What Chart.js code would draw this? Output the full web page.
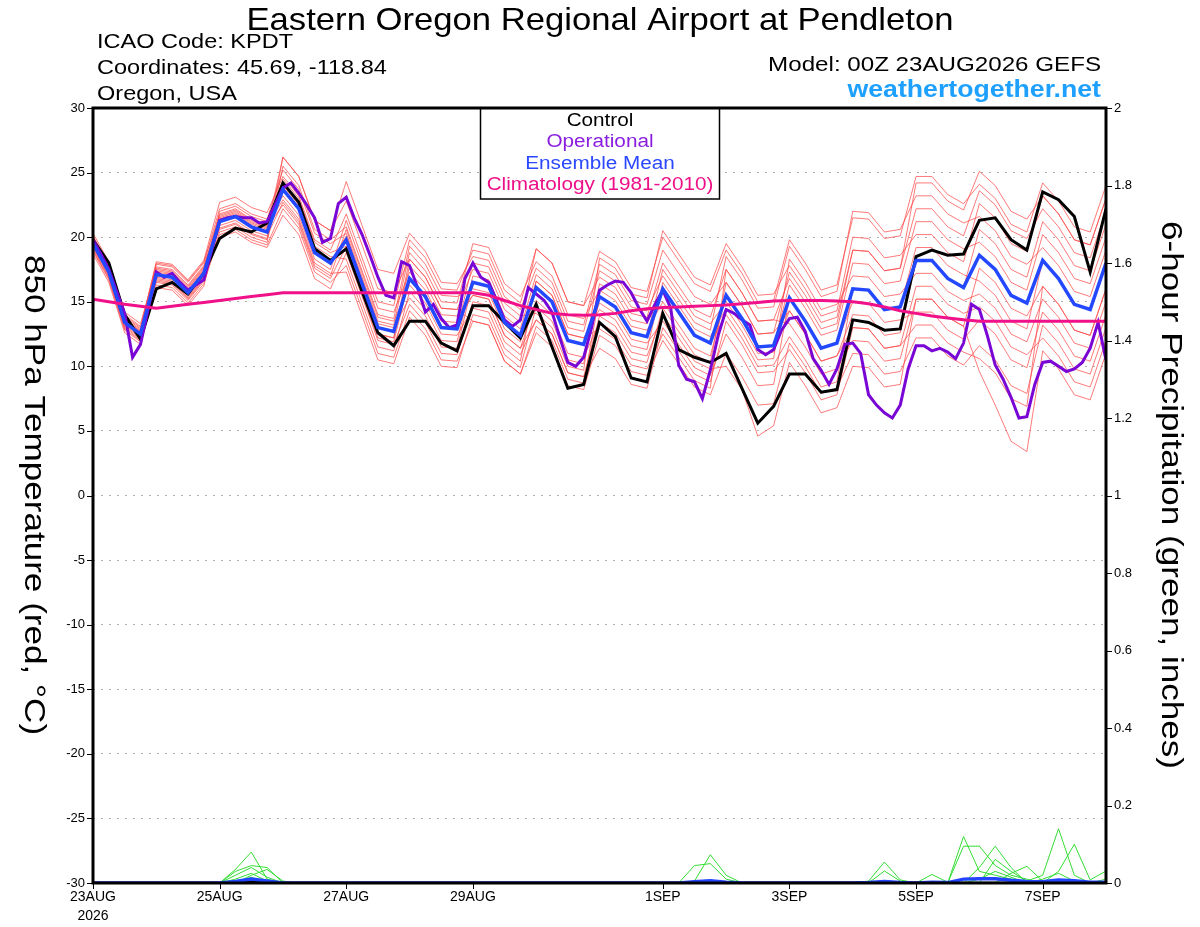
<!DOCTYPE html>
<html><head><meta charset="utf-8">
<script src="https://cdn.jsdelivr.net/npm/chart.js@4.4.1/dist/chart.umd.min.js"></script>
<style>html,body{margin:0;padding:0;background:#fff;}canvas{display:block;}</style>
</head><body>
<canvas id="c" width="1200" height="927"></canvas>
<script>
// ---------- DATA ----------
const stepHours = 6;      // ensemble / control / mean step
const opStepHours = 3;    // operational step
const xTickHours = [0, 48, 96, 144, 216, 264, 312, 360];
const xTickLabels = [['23AUG', '2026'], '25AUG', '27AUG', '29AUG', '1SEP', '3SEP', '5SEP', '7SEP'];

const controlT = [19.8,18.0,14.0,12.1, 16.0,16.5,15.6,17.2, 19.9,20.7,20.4,21.1, 24.2,22.7,19.1,18.2, 19.1,15.8,12.6,11.6, 13.5,13.5,11.8,11.2, 14.7,14.7,13.4,12.2, 14.8,11.5,8.3,8.6, 13.4,12.3,9.1,8.8, 14.1,11.3,10.7,10.3, 11.0,8.3,5.6,6.9, 9.4,9.4,8.0,8.2, 13.6,13.4,12.8,12.9, 18.5,19.0,18.6,18.7, 21.3,21.5,19.8,19.0, 23.5,22.9,21.6,17.3,22.2];
const meanT = [19.5,17.3,13.4,12.5, 17.1,16.9,15.7,17.2, 21.2,21.6,20.8,20.4, 23.7,22.2,18.8,18.0, 19.8,16.4,13.0,12.7, 16.8,15.4,13.0,12.9, 16.5,16.2,13.4,12.4, 16.1,15.0,12.0,11.7, 15.4,14.6,12.6,12.3, 16.0,14.2,12.4,11.8, 15.5,13.7,11.5,11.6, 15.3,13.5,11.4,11.8, 16.0,15.9,14.4,14.6, 18.2,18.2,16.8,16.1, 18.6,17.5,15.5,14.9, 18.2,16.8,14.8,14.4,18.0];
const climT = [15.2,15.0,14.8,14.65, 14.5,14.65,14.8,14.95, 15.1,15.25,15.4,15.55, 15.7,15.7,15.7,15.7, 15.7,15.7,15.7,15.7, 15.7,15.7,15.7,15.7, 15.7,15.5,15.1,14.7, 14.4,14.1,14.0,13.95, 14.0,14.1,14.3,14.45, 14.55,14.6,14.65,14.7, 14.75,14.85,14.95,15.05, 15.1,15.1,15.1,15.05, 15.0,14.85,14.6,14.3, 14.1,13.9,13.75,13.6, 13.5,13.5,13.5,13.5, 13.5,13.5,13.5,13.5,13.5];
const operationalT = [19.8,18.7,17.5,15.8,14.1,10.7,11.7,14.5,17.3,16.9, 17.2,16.5,15.9,16.3,16.7,19.0,21.3,21.5,21.6,21.5, 21.5,21.1,21.2,22.5,23.8,24.2,23.4,22.5,21.5,19.6, 19.9,22.6,23.1,21.5,20.2,18.6,16.9,15.5,15.3,18.1, 17.8,16.1,14.2,14.8,13.7,13.0,13.2,16.8,18.0,16.9, 16.5,15.1,13.6,13.1,13.6,16.1,15.6,15.1,14.2,12.2, 10.3,10.0,10.7,13.0,15.9,16.3,16.6,16.5,15.7,14.5, 13.5,14.8,15.9,14.5,10.1,9.0,8.8,7.5,9.7,12.4, 14.4,14.1,13.6,13.2,11.3,10.9,11.3,12.8,13.7,13.8, 12.7,10.6,9.7,8.6,9.8,11.7,11.8,11.0,7.8,7.0, 6.4,6.0,7.0,9.8,11.6,11.6,11.2,11.4,11.1,10.6, 11.8,14.8,14.4,12.4,10.1,9.0,7.6,6.0,6.1,8.6, 10.3,10.4,10.0,9.6,9.8,10.3,11.4,13.4,10.5];

const member01 = [20.0,17.8,13.9,13.0, 18.1,17.9,16.7,18.2, 22.7,23.1,22.3,21.9, 24.7,23.2,19.8,19.0, 21.8,18.4,15.0,14.7, 19.8,18.4,16.0,15.9, 19.0,18.7,15.9,14.9, 19.1,18.0,15.0,14.7, 18.9,18.1,16.1,15.8, 20.0,18.2,16.4,15.8, 19.0,17.2,15.0,15.1, 19.8,18.0,15.9,16.3, 21.5,21.4,19.9,20.1, 24.7,24.7,23.3,22.6, 24.1,23.0,21.0,20.4, 24.2,22.8,20.8,20.4,24.0];
const member02 = [19.0,16.8,12.9,12.0, 16.3,16.1,14.9,16.4, 20.2,20.6,19.8,19.4, 22.2,20.7,17.3,16.5, 17.8,14.4,11.0,10.7, 14.3,12.9,10.5,10.4, 13.5,13.2,10.4,9.4, 12.6,11.5,8.5,8.2, 12.4,11.6,9.6,9.3, 12.0,10.2,8.4,7.8, 11.0,9.2,7.0,7.1, 11.8,10.0,7.9,8.3, 11.0,10.9,9.4,9.6, 12.2,12.2,10.8,10.1, 11.6,10.5,8.5,7.9, 13.2,11.8,9.8,9.4,13.0];
const member03 = [20.3,18.1,14.2,13.3, 17.6,17.4,16.2,17.7, 21.5,21.9,21.1,20.7, 26.2,24.7,21.3,20.5, 24.3,20.9,17.5,17.2, 20.3,18.9,16.5,16.4, 18.5,18.2,15.4,14.4, 17.6,16.5,13.5,13.2, 17.9,17.1,15.1,14.8, 19.0,17.2,15.4,14.8, 16.5,14.7,12.5,12.6, 17.3,15.5,13.4,13.8, 19.0,18.9,17.4,17.6, 22.2,22.2,20.8,20.1, 23.6,22.5,20.5,19.9, 22.2,20.8,18.8,18.4,22.0];
const member04 = [18.7,16.5,12.6,11.7, 16.8,16.6,15.4,16.9, 20.0,20.4,19.6,19.2, 21.7,20.2,16.8,16.0, 18.8,15.4,12.0,11.7, 14.8,13.4,11.0,10.9, 15.0,14.7,11.9,10.9, 13.6,12.5,9.5,9.2, 11.4,10.6,8.6,8.3, 13.0,11.2,9.4,8.8, 13.5,11.7,9.5,9.6, 11.3,9.5,7.4,7.8, 13.0,12.9,11.4,11.6, 16.2,16.2,14.8,14.1, 14.6,13.5,11.5,10.9, 12.2,10.8,8.8,8.4,12.0];
const member05 = [19.8,17.6,13.7,12.8, 17.9,17.7,16.5,18.0, 22.2,22.6,21.8,21.4, 25.2,23.7,20.3,19.5, 20.3,16.9,13.5,13.2, 18.8,17.4,15.0,14.9, 19.5,19.2,16.4,15.4, 18.1,17.0,14.0,13.7, 15.9,15.1,13.1,12.8, 15.0,13.2,11.4,10.8, 15.5,13.7,11.5,11.6, 16.3,14.5,12.4,12.8, 18.0,17.9,16.4,16.6, 21.2,21.2,19.8,19.1, 19.6,18.5,16.5,15.9, 20.2,18.8,16.8,16.4,20.0];
const member06 = [19.2,17.0,13.1,12.2, 17.3,17.1,15.9,17.4, 20.7,21.1,20.3,19.9, 24.2,22.7,19.3,18.5, 18.3,14.9,11.5,11.2, 15.8,14.4,12.0,11.9, 17.0,16.7,13.9,12.9, 17.1,16.0,13.0,12.7, 17.4,16.6,14.6,14.3, 17.0,15.2,13.4,12.8, 18.5,16.7,14.5,14.6, 19.3,17.5,15.4,15.8, 22.0,21.9,20.4,20.6, 23.2,23.2,21.8,21.1, 21.6,20.5,18.5,17.9, 19.2,17.8,15.8,15.4,19.0];
const member07 = [19.7,17.5,13.6,12.7, 16.6,16.4,15.2,16.7, 22.0,22.4,21.6,21.2, 23.2,21.7,18.3,17.5, 21.3,17.9,14.5,14.2, 17.3,15.9,13.5,13.4, 15.5,15.2,12.4,11.4, 15.1,14.0,11.0,10.7, 13.4,12.6,10.6,10.3, 14.5,12.7,10.9,10.3, 16.5,14.7,12.5,12.6, 14.3,12.5,10.4,10.8, 14.0,13.9,12.4,12.6, 18.2,18.2,16.8,16.1, 20.6,19.5,17.5,16.9, 21.2,19.8,17.8,17.4,21.0];
const member08 = [19.3,17.1,13.2,12.3, 17.7,17.5,16.3,17.8, 21.4,21.8,21.0,20.6, 24.5,23.0,19.6,18.8, 19.3,15.9,12.5,12.2, 18.3,16.9,14.5,14.4, 17.5,17.2,14.4,13.4, 19.1,18.0,15.0,14.7, 16.9,16.1,14.1,13.8, 18.0,16.2,14.4,13.8, 17.5,15.7,13.5,13.6, 13.3,11.5,9.4,9.8, 12.0,11.9,10.4,10.6, 15.2,15.2,13.8,13.1, 17.6,16.5,14.5,13.9, 16.2,14.8,12.8,12.4,16.0];
const member09 = [20.1,17.9,14.0,13.1, 16.5,16.3,15.1,16.6, 20.9,21.3,20.5,20.1, 22.7,21.2,17.8,17.0, 20.6,17.2,13.8,13.5, 16.3,14.9,12.5,12.4, 14.5,14.2,11.4,10.4, 16.6,15.5,12.5,12.2, 14.4,13.6,11.6,11.3, 16.5,14.7,12.9,12.3, 14.5,12.7,10.5,10.6, 18.3,16.5,14.4,14.8, 17.0,16.9,15.4,15.6, 17.2,17.2,15.8,15.1, 15.6,14.5,12.5,11.9, 15.2,13.8,11.8,11.4,15.0];
const member10 = [18.9,16.7,12.8,11.9, 17.4,17.2,16.0,17.5, 21.8,22.2,21.4,21.0, 24.0,22.5,19.1,18.3, 19.0,15.6,12.2,11.9, 16.8,15.4,13.0,12.9, 18.0,17.7,14.9,13.9, 14.1,13.0,10.0,9.7, 18.4,17.6,15.6,15.3, 20.5,18.7,16.9,16.3, 19.5,17.7,15.5,15.6, 17.8,16.0,13.9,14.3, 20.0,19.9,18.4,18.6, 20.2,20.2,18.8,18.1, 22.6,21.5,19.5,18.9, 23.2,21.8,19.8,19.4,23.0];
const member11 = [19.5,17.3,13.4,12.5, 16.9,16.7,15.5,17.0, 20.4,20.8,20.0,19.6, 25.5,24.0,20.6,19.8, 20.8,17.4,14.0,13.7, 19.3,17.9,15.5,15.4, 16.0,15.7,12.9,11.9, 16.1,15.0,12.0,11.7, 14.9,14.1,12.1,11.8, 13.5,11.7,9.9,9.3, 12.5,10.7,8.5,8.6, 15.3,13.5,11.4,11.8, 15.0,14.9,13.4,13.6, 14.2,14.2,12.8,12.1, 13.6,12.5,10.5,9.9, 14.2,12.8,10.8,10.4,14.0];
const member12 = [19.9,17.7,13.8,12.9, 18.0,17.8,16.6,18.1, 21.7,22.1,21.3,20.9, 22.9,21.4,18.0,17.2, 17.3,13.9,10.5,10.2, 13.8,12.4,10.0,9.9, 14.0,13.7,10.9,9.9, 14.6,13.5,10.5,10.2, 16.4,15.6,13.6,13.3, 16.0,14.2,12.4,11.8, 14.0,12.2,10.0,10.1, 12.3,10.5,8.4,8.8, 16.0,15.9,14.4,14.6, 19.2,19.2,17.8,17.1, 16.6,15.5,13.5,12.9, 18.2,16.8,14.8,14.4,18.0];
const member13 = [19.1,16.9,13.0,12.1, 16.1,15.9,14.7,16.2, 21.2,21.6,20.8,20.4, 23.7,22.2,18.8,18.0, 20.1,16.7,13.3,13.0, 15.3,13.9,11.5,11.4, 16.5,16.2,13.4,12.4, 16.6,15.5,12.5,12.2, 12.9,12.1,10.1,9.8, 12.5,10.7,8.9,8.3, 17.5,15.7,13.5,13.6, 16.8,15.0,12.9,13.3, 19.0,18.9,17.4,17.6, 24.2,24.2,22.8,22.1, 25.1,24.0,22.0,21.4, 23.2,21.8,19.8,19.4,23.0];
const member14 = [19.6,17.4,13.5,12.6, 17.5,17.3,16.1,17.6, 20.6,21.0,20.2,19.8, 26.2,24.7,21.3,20.5, 22.8,19.4,16.0,15.7, 18.3,16.9,14.5,14.4, 13.5,13.2,10.4,9.4, 13.1,12.0,9.0,8.7, 15.4,14.6,12.6,12.3, 17.5,15.7,13.9,13.3, 15.0,13.2,11.0,11.1, 14.3,12.5,10.4,10.8, 13.0,12.9,11.4,11.6, 13.2,13.2,11.8,11.1, 10.6,9.5,7.5,6.9, 16.2,14.8,12.8,12.4,16.0];
const member15 = [19.7,17.5,13.6,12.7, 16.7,16.5,15.3,16.8, 21.6,22.0,21.2,20.8, 22.5,21.0,17.6,16.8, 19.3,15.9,12.5,12.2, 17.8,16.4,14.0,13.9, 15.5,15.2,12.4,11.4, 13.6,12.5,9.5,9.2, 13.9,13.1,11.1,10.8, 14.0,12.2,10.4,9.8, 10.0,8.2,4.6,5.4, 10.3,8.5,6.4,6.8, 10.0,9.9,8.4,8.6, 15.2,15.2,13.8,13.1, 9.6,7.0,4.2,3.4, 11.2,9.8,7.8,7.4,11.0];

const precip01 = [0,0,0,0, 0,0,0,0, 0,.035,.08,.01, 0,0,0,0, 0,0,0,0, 0,0,0,0, 0,0,0,0, 0,0,0,0, 0,0,0,0, 0,0,.045,.05, .01,0,0,0, 0,0,0,0, 0,0,0,0, 0,0,0,.12, .03,.02,.01,.005, .02,.14,.02,0,0];
const precip02 = [0,0,0,0, 0,0,0,0, 0,.03,.045,.04, 0,0,0,0, 0,0,0,0, 0,0,0,0, 0,0,0,0, 0,0,0,0, 0,0,0,0, 0,0,.005,.073, .02,0,0,0, 0,0,0,0, 0,0,0,0, 0,0,0,.095, .095,.045,.02,.01, 0,.03,.1,.008,.031];
const precip03 = [0,0,0,0, 0,0,0,0, 0,.02,.04,.015, 0,0,0,0, 0,0,0,0, 0,0,0,0, 0,0,0,0, 0,0,0,0, 0,0,0,0, 0,0,0,0, 0,0,0,0, 0,0,0,0, 0,.005,.054,.008, 0,0,0,0, .04,.095,.04,0, 0,0,0,0,0];
const precip04 = [0,0,0,0, 0,0,0,0, 0,0,.02,.035, .005,0,0,0, 0,0,0,0, 0,0,0,0, 0,0,0,0, 0,0,0,0, 0,0,0,0, 0,0,0,0, 0,0,0,0, 0,0,0,0, 0,0,.031,.005, 0,0,0,0, 0,.061,.03,.005, 0,0,0,0,0];
const precip05 = [0,0,0,0, 0,0,0,0, 0,0,.015,0, 0,0,0,0, 0,0,0,0, 0,0,0,0, 0,0,0,0, 0,0,0,0, 0,0,0,0, 0,0,0,0, 0,0,0,0, 0,0,0,0, 0,0,0,0, 0,.022,.002,0, 0,0,.025,.043, .005,0,0,0,0];
const precip06 = [0,0,0,0, 0,0,0,0, 0,.01,.025,.005, 0,0,0,0, 0,0,0,0, 0,0,0,0, 0,0,0,0, 0,0,0,0, 0,0,0,0, 0,0,0,0, 0,0,0,0, 0,0,0,0, 0,0,0,0, 0,0,0,0, .01,.03,.015,0, .01,.025,.005,0,.01];
const precipMean = [0,0,0,0, 0,0,0,0, 0,.004,.01,.005, 0,0,0,0, 0,0,0,0, 0,0,0,0, 0,0,0,0, 0,0,0,0, 0,0,0,0, 0,0,.003,.006, .002,0,0,0, 0,0,0,0, 0,.001,.004,.001, 0,.002,.001,.01, .011,.011,.007,.004, .003,.008,.006,.002,.002];
const precipControl = [0,0,0,0, 0,0,0,0, 0,.002,.004,.002, 0,0,0,0, 0,0,0,0, 0,0,0,0, 0,0,0,0, 0,0,0,0, 0,0,0,0, 0,0,0,0, 0,0,0,0, 0,0,0,0, 0,0,0,0, 0,0,0,0, 0,0,0,0, 0,0,0,0,0];

const memberSeries = [member01, member02, member03, member04, member05, member06, member07, member08, member09, member10, member11, member12, member13, member14, member15];
const precipSeries = [precip01, precip02, precip03, precip04, precip05, precip06];

// ---------- BUILD ----------
const FONT = "'Liberation Sans', Arial, Helvetica, sans-serif";
const toPts = (arr, step) => arr.map((v, i) => ({ x: i * step, y: v }));
const lineDs = (arr, step, color, width, axis, order) => ({
  data: toPts(arr, step), borderColor: color, borderWidth: width, pointRadius: 0,
  yAxisID: axis, order: order, tension: 0, fill: false, borderJoinStyle: 'miter'
});

const datasets = [];
memberSeries.forEach(m => datasets.push(lineDs(m, stepHours, 'rgba(255,70,70,0.8)', 0.9, 'y', 20)));
precipSeries.forEach(p => datasets.push(lineDs(p, stepHours, '#33dd33', 1, 'y2', 15)));
datasets.push(lineDs(precipControl, stepHours, '#000000', 2.5, 'y2', 12));
datasets.push(lineDs(precipMean, stepHours, '#2244ff', 3.5, 'y2', 11));
datasets.push(lineDs(controlT, stepHours, '#000000', 3, 'y', 5));
datasets.push(lineDs(operationalT, opStepHours, '#7a06d6', 3, 'y', 4));
datasets.push(lineDs(meanT, stepHours, '#2448ff', 3.5, 'y', 3));
datasets.push(lineDs(climT, stepHours, '#f0108a', 3, 'y', 2));

const legendItems = [
  ['Control', '#000000'],
  ['Operational', '#8a1ee0'],
  ['Ensemble Mean', '#2a48ff'],
  ['Climatology (1981-2010)', '#ee1088']
];

// draw text horizontally stretched (source font is wider than Arial)
function wideText(ctx, text, x, y, align, sx, rot) {
  ctx.save();
  ctx.translate(x, y);
  if (rot) ctx.rotate(rot);
  ctx.scale(sx, 1);
  ctx.textAlign = align;
  ctx.fillText(text, 0, 0);
  ctx.restore();
}

const decorPlugin = {
  id: 'decor',
  afterDraw(chart) {
    const { ctx, chartArea: a, scales } = chart;
    ctx.save();
    // header
    ctx.fillStyle = '#000';
    ctx.textBaseline = 'alphabetic';
    ctx.font = '32px ' + FONT;
    wideText(ctx, 'Eastern Oregon Regional Airport at Pendleton', 600, 30, 'center', 1.083);
    ctx.font = '21px ' + FONT;
    wideText(ctx, 'ICAO Code: KPDT', 97, 48, 'left', 1.12);
    wideText(ctx, 'Coordinates: 45.69, -118.84', 97, 74, 'left', 1.12);
    wideText(ctx, 'Oregon, USA', 97, 100, 'left', 1.12);
    wideText(ctx, 'Model: 00Z 23AUG2026 GEFS', 1101, 71, 'right', 1.15);
    ctx.font = 'bold 23px ' + FONT;
    ctx.fillStyle = '#1ea0ff';
    wideText(ctx, 'weathertogether.net', 1101, 97, 'right', 1.16);

    // axis titles (rotated clockwise)
    ctx.fillStyle = '#000';
    ctx.font = '29px ' + FONT;
    ctx.textBaseline = 'middle';
    wideText(ctx, '850 hPa Temperature (red, \u00B0C)', 33, 495, 'center', 1.21, Math.PI / 2);
    wideText(ctx, '6-hour Precipitation (green, inches)', 1170, 495, 'center', 1.21, Math.PI / 2);

    // legend box
    const lx0 = 480.5, lx1 = 719.5, ly0 = a.top, ly1 = 199;
    ctx.fillStyle = '#fff';
    ctx.fillRect(lx0, ly0, lx1 - lx0, ly1 - ly0);
    ctx.strokeStyle = '#000';
    ctx.lineWidth = 1.5;
    ctx.strokeRect(lx0, ly0, lx1 - lx0, ly1 - ly0);
    ctx.font = '18px ' + FONT;
    ctx.textBaseline = 'middle';
    legendItems.forEach((it, k) => {
      ctx.fillStyle = it[1];
      wideText(ctx, it[0], 600, 121 + k * 21.4, 'center', 1.15);
    });

    // tick marks
    ctx.strokeStyle = '#000';
    ctx.lineWidth = 1;
    scales.y.ticks.forEach(t => {
      const y = Math.round(scales.y.getPixelForValue(t.value)) + 0.5;
      ctx.beginPath(); ctx.moveTo(a.left - 6, y); ctx.lineTo(a.left, y); ctx.stroke();
    });
    scales.y2.ticks.forEach(t => {
      const y = Math.round(scales.y2.getPixelForValue(t.value)) + 0.5;
      ctx.beginPath(); ctx.moveTo(a.right, y); ctx.lineTo(a.right + 6, y); ctx.stroke();
    });
    scales.x.ticks.forEach(t => {
      const x = Math.round(scales.x.getPixelForValue(t.value)) + 0.5;
      ctx.beginPath(); ctx.moveTo(x, a.bottom); ctx.lineTo(x, a.bottom + 6); ctx.stroke();
    });
    // frame
    ctx.lineWidth = 3;
    ctx.strokeRect(a.left, a.top, a.right - a.left, a.bottom - a.top);
    ctx.restore();
  }
};

new Chart(document.getElementById('c'), {
  type: 'line',
  data: { datasets },
  plugins: [decorPlugin],
  options: {
    responsive: false,
    animation: false,
    devicePixelRatio: 1,
    layout: { padding: { top: 108, left: 0, right: 0, bottom: 0 } },
    plugins: { legend: { display: false }, tooltip: { enabled: false }, title: { display: false } },
    scales: {
      x: {
        type: 'linear', min: 0, max: 384,
        grid: { display: false, drawTicks: false },
        border: { display: false },
        afterBuildTicks: s => { s.ticks = xTickHours.map(v => ({ value: v })); },
        afterFit: s => { s.height = 44; },
        ticks: {
          autoSkip: false, maxRotation: 0, padding: 5, color: '#000',
          font: { family: FONT, size: 14, lineHeight: 1.35 },
          callback: (v, i) => xTickLabels[i]
        }
      },
      y: {
        position: 'left', min: -30, max: 30,
        grid: { color: '#b0b0b0', lineWidth: 1, drawTicks: false },
        border: { display: false, dash: [2, 6] },
        afterFit: s => { s.width = 93; },
        ticks: { stepSize: 5, padding: 8, color: '#000', font: { family: FONT, size: 13 } }
      },
      y2: {
        position: 'right', min: 0, max: 2,
        grid: { drawOnChartArea: false, drawTicks: false },
        border: { display: false },
        afterFit: s => { s.width = 94; },
        ticks: {
          stepSize: 0.2, padding: 8, color: '#000', font: { family: FONT, size: 13 },
          callback: v => String(Math.round(v * 10) / 10)
        }
      }
    }
  }
});
</script>
</body></html>
